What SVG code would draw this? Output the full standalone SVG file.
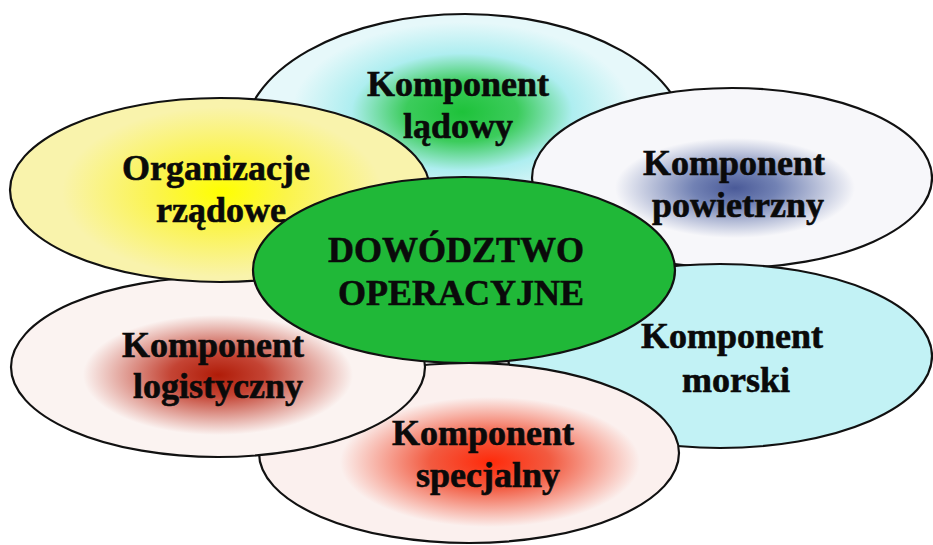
<svg xmlns="http://www.w3.org/2000/svg" width="933" height="545" viewBox="0 0 933 545">
<style>
.e{stroke:#111;stroke-width:2.2}
.t{font-family:"Liberation Serif","Times New Roman",serif;font-weight:bold;font-size:36px;fill:#0a0a0a;stroke:#0a0a0a;stroke-width:0.6;text-anchor:middle}
</style>
<defs>
<radialGradient id="gTop" gradientUnits="userSpaceOnUse" cx="0" cy="0" r="1" gradientTransform="translate(462,112) scale(170,90)">
<stop offset="0" stop-color="#1ec23a"/><stop offset="0.33" stop-color="#3ccc5c"/><stop offset="0.65" stop-color="#aeeef0"/><stop offset="1" stop-color="#e6f8fa"/>
</radialGradient>
<radialGradient id="gYel" gradientUnits="userSpaceOnUse" cx="0" cy="0" r="1" gradientTransform="translate(222,192) scale(160,85)">
<stop offset="0" stop-color="#ffff00"/><stop offset="0.4" stop-color="#fbf44a"/><stop offset="1" stop-color="#f9f3ac"/>
</radialGradient>
<radialGradient id="gAir" gradientUnits="userSpaceOnUse" cx="0" cy="0" r="1" gradientTransform="translate(735,188) scale(120,50)">
<stop offset="0" stop-color="#4a5a98"/><stop offset="0.35" stop-color="#7282b4"/><stop offset="1" stop-color="#f7f7fa"/>
</radialGradient>
<radialGradient id="gLog" gradientUnits="userSpaceOnUse" cx="0" cy="0" r="1" gradientTransform="translate(218,375) scale(135,60)">
<stop offset="0" stop-color="#b01c08"/><stop offset="0.35" stop-color="#c44434"/><stop offset="1" stop-color="#fbf3f1"/>
</radialGradient>
<radialGradient id="gSpec" gradientUnits="userSpaceOnUse" cx="0" cy="0" r="1" gradientTransform="translate(490,462) scale(150,65)">
<stop offset="0" stop-color="#ff2a0a"/><stop offset="0.4" stop-color="#f25a40"/><stop offset="1" stop-color="#fbf0ee"/>
</radialGradient>
</defs>
<rect width="933" height="545" fill="#ffffff"/>
<g id="connectors"/>
<g id="node-ladowy">
<ellipse class="e" cx="465" cy="140" rx="222" ry="126" fill="url(#gTop)"/>
<text class="t" x="458" y="96">Komponent</text>
<text class="t" x="458" y="138">lądowy</text>
</g>
<g id="node-powietrzny">
<ellipse class="e" cx="732" cy="178" rx="200" ry="90" fill="url(#gAir)"/>
<text class="t" x="734" y="175">Komponent</text>
<text class="t" x="738" y="217">powietrzny</text>
</g>
<g id="node-morski">
<ellipse class="e" cx="720" cy="356" rx="212" ry="92" fill="#c2f2f5"/>
<text class="t" x="732" y="348">Komponent</text>
<text class="t" x="736" y="392">morski</text>
</g>
<g id="node-specjalny">
<ellipse class="e" cx="469" cy="453" rx="210" ry="90" fill="url(#gSpec)"/>
<text class="t" x="483" y="445">Komponent</text>
<text class="t" x="488" y="487">specjalny</text>
</g>
<g id="node-logistyczny">
<ellipse class="e" cx="218" cy="367" rx="207" ry="90" fill="url(#gLog)"/>
<text class="t" x="213" y="357">Komponent</text>
<text class="t" x="218" y="398">logistyczny</text>
</g>
<g id="node-organizacje">
<ellipse class="e" cx="220" cy="190" rx="210" ry="92" fill="url(#gYel)"/>
<text class="t" x="216" y="180">Organizacje</text>
<text class="t" x="221" y="222">rządowe</text>
</g>
<g id="node-dowodztwo">
<ellipse class="e" cx="464" cy="270" rx="211" ry="93" fill="#20b838"/>
<text class="t" x="456" y="262">DOWÓDZTWO</text>
<text class="t" x="461" y="305">OPERACYJNE</text>
</g>
</svg>
